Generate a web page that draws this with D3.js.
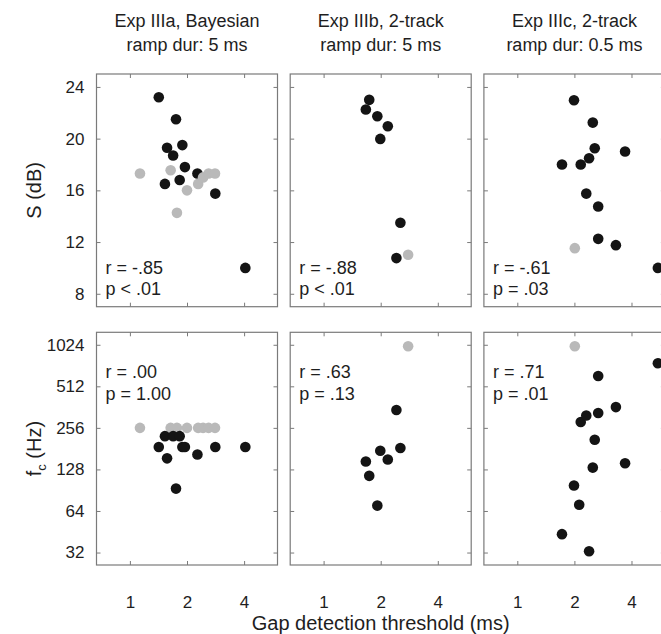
<!DOCTYPE html>
<html>
<head>
<meta charset="utf-8">
<script src="https://cdn.jsdelivr.net/npm/d3@7"></script>
<style>
  html, body { margin: 0; padding: 0; background: #fff; }
  svg { display: block; font-family: "Liberation Sans", Arial, sans-serif; }
</style>
</head>
<body>
<svg id="chart" width="661" height="634"></svg>
<script>
// Tick values
const gapTicks = [1, 2, 4];
const sTicks = [8, 12, 16, 20, 24];
const fcTicks = [32, 64, 128, 256, 512, 1024];

// Panel headings
const titles = [
  ["Exp IIIa, Bayesian", "ramp dur: 5 ms"],
  ["Exp IIIb, 2-track", "ramp dur: 5 ms"],
  ["Exp IIIc, 2-track", "ramp dur: 0.5 ms"]
];

// Exp IIIa: gap threshold (ms), slope S (dB), cutoff fc (Hz), excluded flag
const gapA = [1.42, 1.53, 1.57, 1.69, 1.75, 1.83, 1.89, 1.95, 2.27, 2.82, 4.06,
              1.13, 1.64, 1.77, 2.0, 2.29, 2.43, 2.6, 2.81];
const sA   = [23.2, 16.5, 19.3, 18.7, 21.5, 16.8, 19.5, 17.8, 17.3, 15.75, 10.0,
              17.3, 17.55, 14.26, 16.0, 16.5, 17.0, 17.3, 17.3];
const fcA  = [186, 223, 154, 223, 93, 223, 186, 186, 164, 186, 186,
              256, 256, 256, 256, 256, 256, 256, 256];
const excA = [0, 0, 0, 0, 0, 0, 0, 0, 0, 0, 0, 1, 1, 1, 1, 1, 1, 1, 1];

// Exp IIIb
const gapB = [1.67, 1.74, 1.92, 1.99, 2.18, 2.42, 2.54, 2.79];
const sB   = [22.25, 23.0, 21.73, 19.98, 20.96, 10.76, 13.49, 11.02];
const fcB  = [146, 115, 70, 175, 151, 345, 183, 1000];
const excB = [0, 0, 0, 0, 0, 0, 0, 1];

// Exp IIIc
const gapC = [1.72, 1.99, 2.12, 2.16, 2.31, 2.39, 2.5, 2.56, 2.67, 2.67, 3.31, 3.70, 5.51, 2.01];
const sC   = [18.0, 22.97, null, 18.0, 15.75, 18.48, 21.24, 19.26, 14.75, 12.25, 11.76, 19.0, 10.0, 11.53];
const fcC  = [43.5, 98, 71, 282, 315, 32.7, 132, 210, 608, 328, 362, 142, 753, 1000];
const excC = [0, 0, 0, 0, 0, 0, 0, 0, 0, 0, 0, 0, 0, 1];

// Correlation statistics
const statsS  = [["r = -.85", "p < .01"], ["r = -.88", "p < .01"], ["r = -.61", "p = .03"]];
const statsFc = [["r = .00", "p = 1.00"], ["r = .63", "p = .13"], ["r = .71", "p = .01"]];

const experiments = [
  { gap: gapA, s: sA, fc: fcA, exc: excA },
  { gap: gapB, s: sB, fc: fcB, exc: excB },
  { gap: gapC, s: sC, fc: fcC, exc: excC }
];

// Layout
const panelX0 = 96.5, panelStep = 193.7, panelW = 181;
const topY0 = 74, rowH = 232.7, botY0 = 332.3;
const tickLen = 4;
const frameColor = "#7a7a7a";
const textColor = "#1e1e1e";
const black = "#141414", gray = "#b9b9b9";
const radius = 5.3;
const fontFam = "Liberation Sans, Arial, sans-serif";

const svg = d3.select("#chart");

function drawPanel(col, row) {
  const x0 = panelX0 + col * panelStep;
  const y0 = row === 0 ? topY0 : botY0;
  const exp = experiments[col];

  const x = d3.scaleLog().base(2).domain([2 / 3, 6]).range([x0, x0 + panelW]);
  const y = row === 0
    ? d3.scaleLinear().domain([7, 25]).range([y0 + rowH, y0])
    : d3.scaleLog().base(2).domain([Math.pow(2, 4.7), Math.pow(2, 10.3)]).range([y0 + rowH, y0]);
  const yTicks = row === 0 ? sTicks : fcTicks;

  const g = svg.append("g");

  // inward ticks on all four sides
  const axB = d3.axisTop(x).tickValues(gapTicks).tickSize(tickLen).tickFormat("");
  const axT = d3.axisBottom(x).tickValues(gapTicks).tickSize(tickLen).tickFormat("");
  const axL = d3.axisRight(y).tickValues(yTicks).tickSize(tickLen).tickFormat("");
  const axR = d3.axisLeft(y).tickValues(yTicks).tickSize(tickLen).tickFormat("");
  [[axB, `translate(0,${y0 + rowH})`], [axT, `translate(0,${y0})`],
   [axL, `translate(${x0},0)`], [axR, `translate(${x0 + panelW},0)`]].forEach(([ax, tr]) => {
    const a = g.append("g").attr("transform", tr).call(ax);
    a.select(".domain").remove();
    a.selectAll("line").attr("stroke", frameColor).attr("stroke-width", 1);
  });

  g.append("rect")
    .attr("x", x0).attr("y", y0).attr("width", panelW).attr("height", rowH)
    .attr("fill", "none").attr("stroke", frameColor).attr("stroke-width", 1.2);

  // tick labels on the outer panels only
  if (col === 0) {
    const ya = g.append("g").attr("transform", `translate(${x0 - 9},0)`)
      .call(d3.axisLeft(y).tickValues(yTicks).tickSize(0).tickFormat(d3.format("d")));
    ya.select(".domain").remove();
    ya.selectAll("text").attr("fill", textColor).attr("font-size", 17)
      .attr("font-family", fontFam);
  }
  if (row === 1) {
    const xa = g.append("g").attr("transform", `translate(0,${y0 + rowH + 28})`)
      .call(d3.axisBottom(x).tickValues(gapTicks).tickSize(0).tickFormat(d3.format("d")));
    xa.select(".domain").remove();
    xa.selectAll("text").attr("fill", textColor).attr("font-size", 17)
      .attr("font-family", fontFam);
  }

  // points
  const vals = row === 0 ? exp.s : exp.fc;
  const pts = exp.gap.map((gv, i) => ({ g: gv, v: vals[i], exc: exp.exc[i] }))
    .filter(d => d.v !== null);
  // S panels: excluded listeners drawn on top; fc panels: included drawn on top
  const ordered = row === 0
    ? pts.filter(d => !d.exc).concat(pts.filter(d => d.exc))
    : pts.filter(d => d.exc).concat(pts.filter(d => !d.exc));
  g.selectAll("circle.pt").data(ordered).enter().append("circle")
    .attr("class", "pt")
    .attr("cx", d => x(d.g)).attr("cy", d => y(d.v)).attr("r", radius)
    .attr("fill", d => d.exc ? gray : black);

  // statistics
  const st = row === 0 ? statsS[col] : statsFc[col];
  const ty = row === 0 ? [y0 + 200, y0 + 221] : [y0 + 46, y0 + 68];
  st.forEach((t, i) => {
    g.append("text").attr("x", x0 + 9).attr("y", ty[i])
      .attr("font-size", 18).attr("fill", textColor).text(t);
  });
}

for (let c = 0; c < 3; c++) {
  for (let r = 0; r < 2; r++) drawPanel(c, r);
  const cx = panelX0 + c * panelStep + panelW / 2;
  titles[c].forEach((t, i) => {
    svg.append("text").attr("x", cx).attr("y", 27 + i * 24)
      .attr("text-anchor", "middle").attr("font-size", 18).attr("fill", textColor).text(t);
  });
}

// axis titles
svg.append("text")
  .attr("transform", `translate(41,${topY0 + rowH / 2}) rotate(-90)`)
  .attr("text-anchor", "middle").attr("font-size", 20).attr("fill", textColor)
  .text("S (dB)");

const fcLabel = svg.append("text")
  .attr("transform", `translate(41,${botY0 + rowH / 2}) rotate(-90)`)
  .attr("text-anchor", "middle").attr("font-size", 20).attr("fill", textColor);
fcLabel.append("tspan").text("f");
fcLabel.append("tspan").attr("font-size", 13).attr("dy", 5).text("c");
fcLabel.append("tspan").attr("dy", -5).text(" (Hz)");

svg.append("text")
  .attr("x", panelX0 + panelStep + panelW / 2).attr("y", 630)
  .attr("text-anchor", "middle").attr("font-size", 20).attr("fill", textColor)
  .text("Gap detection threshold (ms)");
</script>
</body>
</html>
